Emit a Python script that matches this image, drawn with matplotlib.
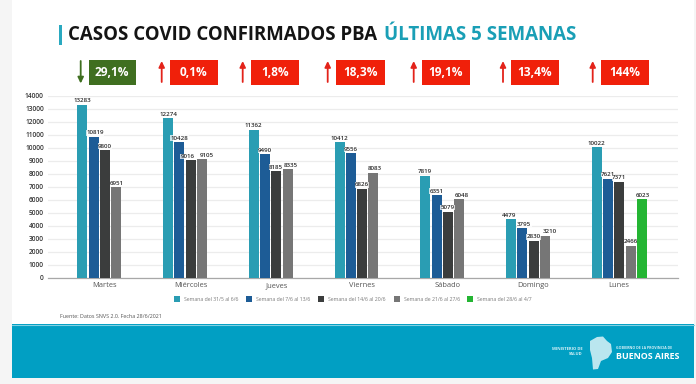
import matplotlib
matplotlib.use("Agg")
import matplotlib.pyplot as plt
from matplotlib.patches import Rectangle, Polygon
import numpy as np

W, H = 696, 384
plt.rcParams['font.family'] = ['Open Sans', 'DejaVu Sans']

days = ["Martes", "Miércoles", "Jueves", "Viernes", "Sábado", "Domingo", "Lunes"]
week1 = [13283, 12274, 11362, 10412, 7819, 4479, 10022]
week2 = [10819, 10428, 9490, 9556, 6351, 3795, 7621]
week3 = [9800, 9016, 8185, 6826, 5079, 2830, 7371]
week4 = [6951, 9105, 8335, 8083, 6048, 3210, 2466]
week5 = [None, None, None, None, None, None, 6023]
week_labels = ["Semana del 31/5 al 6/6", "Semana del 7/6 al 13/6", "Semana del 14/6 al 20/6",
               "Semana de 21/6 al 27/6", "Semana del 28/6 al 4/7"]
week_colors = ["#2a9db3", "#1d5c96", "#3b3d3d", "#767676", "#24b533"]
changes = ["29,1%", "0,1%", "1,8%", "18,3%", "19,1%", "13,4%", "144%"]
directions = ["down", "up", "up", "up", "up", "up", "up"]
yticks = list(range(0, 14001, 1000))

series = [week1, week2, week3, week4, week5]

fig = plt.figure(figsize=(W / 100, H / 100), dpi=100, facecolor="#f5f5f5")

# page layer in pixel coordinates
bg = fig.add_axes([0, 0, 1, 1], zorder=0)
bg.set_xlim(0, W)
bg.set_ylim(H, 0)
bg.axis("off")
bg.add_patch(Rectangle((12, 0), 682, 324, fc="white", ec="none"))
bg.add_patch(Rectangle((12, 324), 682, 54, fc="#019fc3", ec="none"))
bg.plot([12, 694], [324.5, 324.5], color="#7fd0e2", lw=0.8)
bg.add_patch(Rectangle((59, 25), 2.6, 20, fc="#2aa9c0", ec="none"))

bg.text(68, 35.5, "CASOS COVID CONFIRMADOS PBA", fontsize=13.45, fontweight="bold",
        color="#141414", va="center", ha="left")
bg.text(384, 35.5, "ÚLTIMAS 5 SEMANAS", fontsize=13.5, fontweight="bold",
        color="#1a9fb6", va="center", ha="left")

box_left = [88.7, 170, 251, 336, 421.7, 511, 601]
box_right = [135.5, 218, 299, 384.5, 469.7, 559, 649]
arrow_x = [80.7, 161.7, 242.7, 327.7, 413.7, 503, 592.7]
for l, r, ax_, c, d in zip(box_left, box_right, arrow_x, changes, directions):
    up = d == "up"
    col = "#f0200a" if up else "#3f6f20"
    bg.add_patch(Rectangle((l, 60), r - l, 25.3, fc=col, ec="none"))
    bg.text((l + r) / 2, 73, c, color="white", fontsize=8.6, fontweight="bold",
            ha="center", va="center")
    start, end = (82, 61) if up else (61, 83.5)
    bg.annotate("", xy=(ax_, end), xytext=(ax_, start),
                arrowprops=dict(arrowstyle="-|>,head_width=0.17,head_length=0.35",
                                color="#e3231a" if up else "#3f6f20", lw=1.3,
                                shrinkA=0, shrinkB=0))

# chart
left, right, top, bottom = 48, 678, 95.7, 277.7
ax = fig.add_axes([left / W, 1 - bottom / H, (right - left) / W, (bottom - top) / H], zorder=1)
ax.patch.set_visible(False)
spacing = 85.7
first_center = 105.0
ax.set_xlim((left - first_center) / spacing, (right - first_center) / spacing)
ax.set_ylim(0, 14000)
x = np.arange(len(days))
pitch = 11.3 / spacing
bar_w = 10.0 / spacing
# label nudges in pixels, keyed by (day, week), as the labels sit in the reference
label_nudge = {(0, 1): 1.3, (1, 2): -3, (1, 3): 4.4, (2, 2): -0.5, (2, 3): 2.7, (3, 3): 1.7,
               (4, 3): 3, (5, 0): -2, (5, 1): 2, (5, 3): 5, (6, 4): 1.3}
for i, (vals, col, lab) in enumerate(zip(series, week_colors, week_labels)):
    for j, (xi, v) in enumerate(zip(x, vals)):
        if v is None:
            continue
        xp = xi + (i - 2) * pitch
        ax.bar(xp, v, width=bar_w, color=col, zorder=3)
        ax.text(xp + label_nudge.get((j, i), 0) / spacing, v + 120, str(v), ha="center", va="bottom",
                fontsize=4.5, fontweight="semibold", color="#2b2b2b", zorder=4,
                bbox=dict(fc="white", ec="none", pad=0.2, alpha=0.75) if i in (1, 2) else None)

ax.set_yticks(yticks)
ax.set_xticks(x)
ax.set_xticklabels(days, fontsize=5.4, color="#555555", va="baseline")
ax.tick_params(axis="x", length=0, pad=6.7)
ax.tick_params(axis="y", length=0, pad=3, labelsize=4.8, labelcolor="#333333")
for t in ax.get_yticklabels():
    t.set_fontweight("semibold")
ax.grid(axis="y", color="#ececec", lw=0.9, zorder=0)
ax.set_axisbelow(True)
for s in ["top", "left", "right"]:
    ax.spines[s].set_visible(False)
ax.spines["bottom"].set_color("#a8a8a8")
ax.spines["bottom"].set_linewidth(0.9)

# legend
swatch_x = [174, 246, 318, 394, 467]
for sx, col, lab in zip(swatch_x, week_colors, week_labels):
    bg.add_patch(Rectangle((sx, 296), 6, 6, fc=col, ec="none"))
    bg.text(sx + 10, 299.3, lab, fontsize=3.7, color="#7a7a7a", ha="left", va="center")

bg.text(60, 316.5, "Fuente: Datos SNVS 2.0. Fecha 28/6/2021", fontsize=3.9,
        color="#555555", ha="left", va="center")

# footer logo
bg.text(582.7, 351.5, "MINISTERIO DE\nSALUD", fontsize=3.0, fontweight="bold", color="#d8f1f7",
        ha="right", va="center", linespacing=1.05)
bg.add_patch(Polygon([(590, 341), (597, 337), (603, 336.5), (607, 341), (611, 344), (612, 352),
                      (608, 358), (601, 361), (598, 369), (593, 369.5), (592, 358), (590, 350)],
                     closed=True, fc="#cfeef5", ec="none", alpha=0.9))
bg.text(616, 348.2, "GOBIERNO DE LA PROVINCIA DE", fontsize=2.55, fontweight="bold",
        color="#d8f1f7", ha="left", va="center")
bg.text(616, 356.3, "BUENOS AIRES", fontsize=6.4, fontweight="bold", color="white",
        ha="left", va="center")

fig.savefig("out.png", dpi=100, facecolor=fig.get_facecolor())
